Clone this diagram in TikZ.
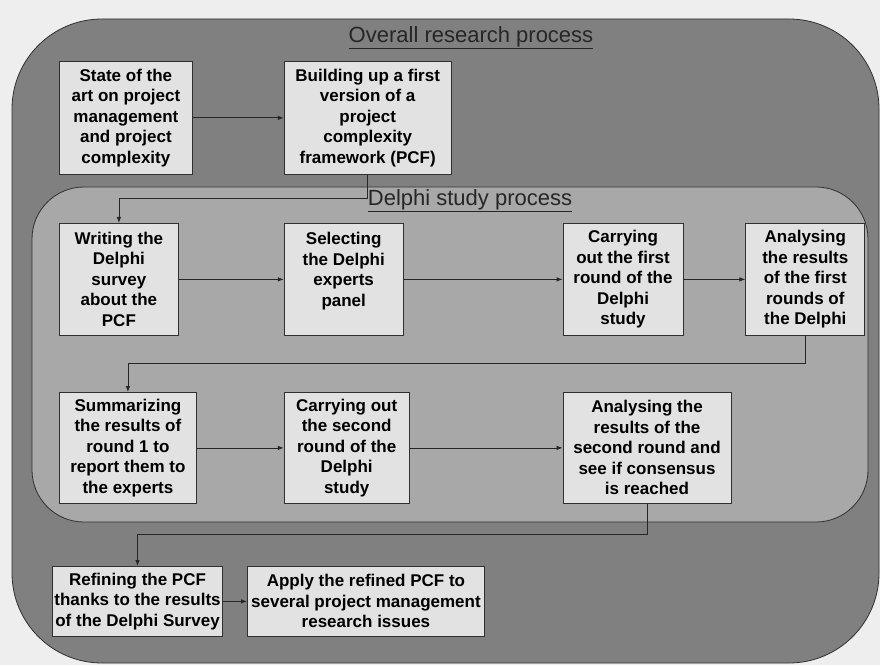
\documentclass[tikz,border=0pt]{standalone}
\usepackage{fontspec}
\setmainfont{Liberation Sans}
\usepackage{tikz}
\usetikzlibrary{arrows.meta, positioning}
\usepackage{xcolor}

\definecolor{pagebg}{HTML}{EEEEEE}
\definecolor{outerfill}{HTML}{808080}
\definecolor{innerfill}{HTML}{A8A8A8}
\definecolor{boxfill}{HTML}{E2E2E2}
\definecolor{edgecol}{HTML}{303030}

\begin{document}
\begin{tikzpicture}[
            x=1pt, y=1pt,
            procbox/.style={draw=edgecol, fill=boxfill, line width=0.8pt, align=center, inner sep=2pt,
                font=\fontsize{17}{20.5}\selectfont\bfseries},
            arrow1/.style={-{Latex[length=6pt,width=4.5pt]}, line width=0.8pt, draw=black!85},
            areatitle/.style={font=\fontsize{22}{26}\selectfont, text=black!85},
        ]

            % Background and the two process areas
            \useasboundingbox (0,0) rectangle (880,665);
            \fill[pagebg] (0,0) rectangle (880,665);
            \draw[edgecol, fill=outerfill, line width=0.8pt, rounded corners=90pt] (12,2) rectangle (879,646);
            \draw[edgecol, fill=innerfill, line width=0.8pt, rounded corners=52pt] (32,143) rectangle (868,478);

            \node[areatitle] (overallTitle) at (471,627) {\underline{Overall research process}};
            \node[areatitle] (delphiTitle) at (470,464) {\underline{Delphi study process}};

            % Nodes
            \node[procbox, minimum width=133pt, minimum height=113pt, anchor=north west] (stateArt) at (59,604)
                {State of the\\art on project\\management\\and project\\complexity};
            \node[procbox, minimum width=167pt, minimum height=113pt, right=91pt of stateArt] (firstPCF)
                {Building up a first\\version of a\\project\\complexity\\framework (PCF)};

            \node[procbox, minimum width=119pt, minimum height=112pt, anchor=north west] (writeSurvey) at (59,442)
                {Writing the\\Delphi\\survey\\about the\\PCF};
            \node[procbox, minimum width=119pt, minimum height=112pt, right=105pt of writeSurvey] (selectPanel)
                {Selecting\\the Delphi\\experts\\panel\\~};
            \node[procbox, minimum width=120pt, minimum height=112pt, right=159pt of selectPanel] (firstRound)
                {Carrying\\out the first\\round of the\\Delphi\\study};
            \node[procbox, minimum width=119pt, minimum height=112pt, right=62pt of firstRound] (analyseFirst)
                {Analysing\\the results\\of the first\\rounds of\\the Delphi};

            \node[procbox, minimum width=137pt, minimum height=111pt, anchor=north west] (summarize) at (59,273)
                {Summarizing\\the results of\\round 1 to\\report them to\\the experts};
            \node[procbox, minimum width=125pt, minimum height=111pt, right=87pt of summarize] (secondRound)
                {Carrying out\\the second\\round of the\\Delphi\\study};
            \node[procbox, minimum width=168pt, minimum height=111pt, right=153pt of secondRound] (analyseSecond)
                {Analysing the\\results of the\\second round and\\see if consensus\\is reached};

            \node[procbox, minimum width=170pt, minimum height=70pt, anchor=north west] (refinePCF) at (52,99)
                {Refining the PCF\\thanks to the results\\of the Delphi Survey};
            \node[procbox, minimum width=237pt, minimum height=70pt, right=24pt of refinePCF] (applyPCF)
                {Apply the refined PCF to\\several project management\\research issues};

            % Arrows
            \draw[arrow1] (stateArt) -- (firstPCF);
            \draw[arrow1] (firstPCF.south) -- ++(0,-24) -| (writeSurvey.north);
            \draw[arrow1] (writeSurvey) -- (selectPanel);
            \draw[arrow1] (selectPanel) -- (firstRound);
            \draw[arrow1] (firstRound) -- (analyseFirst);
            \draw[arrow1] (analyseFirst.south) -- ++(0,-28) -| (summarize.north);
            \draw[arrow1] (summarize) -- (secondRound);
            \draw[arrow1] (secondRound) -- (analyseSecond);
            \draw[arrow1] (analyseSecond.south) -- ++(0,-31) -| (refinePCF.north);
            \draw[arrow1] (refinePCF) -- (applyPCF);

        \end{tikzpicture}
\end{document}
